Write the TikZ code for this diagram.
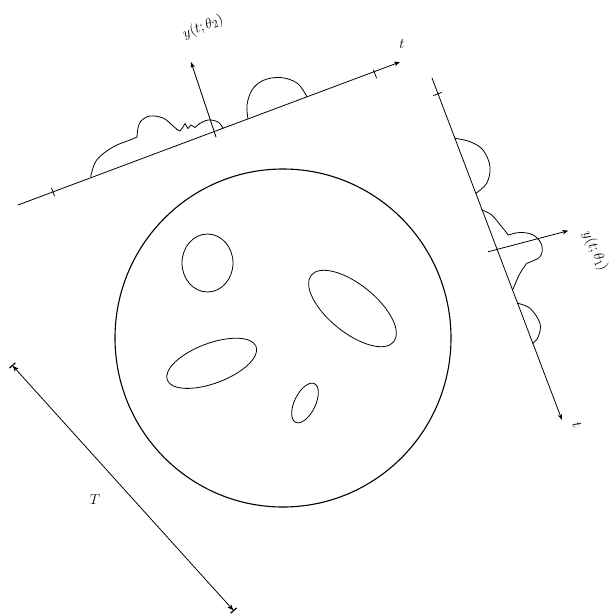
\documentclass[tikz,border=0pt]{standalone}
\usetikzlibrary{arrows.meta}
\begin{document}
\begin{tikzpicture}[x=1pt,y=-1pt,line cap=round,line join=round,
  ln/.style={line width=0.8pt},
  ax/.style={line width=0.8pt,-{Stealth[length=6pt,width=4.5pt]}},
  bump/.style={line width=0.8pt},
  hole/.style={line width=0.8pt},
  lbl/.style={font=\fontsize{15}{17}\selectfont, inner sep=0pt}]
\useasboundingbox (0,0) rectangle (611,614);
% big circle
\draw[line width=1.1pt] (283,338) ellipse [x radius=168, y radius=169];
% holes
\draw[hole] (207.5,263) ellipse [x radius=25.5, y radius=29];
\draw[hole, rotate around={-39:(352.5,308.5)}] (352.5,308.5) ellipse [x radius=53, y radius=24];
\draw[hole, rotate around={20.6:(211.7,363.3)}] (211.7,363.3) ellipse [x radius=47.5, y radius=20];
\draw[hole, rotate around={64:(305,403)}] (305,403) ellipse [x radius=21.5, y radius=10.5];
% top axis
\coordinate (a1) at (18,205);
\coordinate (a2) at (400,62);
\draw[ax] (a1) -- (a2);
\node[lbl] (t1) at (402,44) {$t$};
\draw[ln] (51.5,188) -- (54.5,196);
\draw[ln] (373.5,70) -- (376.5,78);
\coordinate (y2a) at (216,137);
\coordinate (y2b) at (191,62);
\draw[ax] (y2a) -- (y2b);
\node[lbl, rotate=22] (ly2) at (203,27) {$y(t;\theta_2)$};
% top bumps
\draw[bump] plot[smooth, tension=0.6] coordinates {(90.7,176.7) (96.7,160) (113,147) (130,140) (137,137)};
\draw[bump] plot[smooth, tension=0.6] coordinates {(137,137) (138,128) (141,121) (150,116) (163,118) (172,125) (177,129.5)};
\draw[bump] (177,129.5) -- (180,131) -- (183,127) -- (185,123.5) -- (188,128.5) -- (191,125) -- (195,127.5) -- (199,124);
\draw[bump] plot[smooth, tension=0.6] coordinates {(199,124) (208,120) (218,122) (223,128.3)};
\draw[bump] plot[smooth, tension=0.6] coordinates {(248,118.9) (247,105) (252,90) (263,80.5) (280,77.5) (297,83) (307,96.8)};
% right axis
\coordinate (b1) at (432,78);
\coordinate (b2) at (562,420);
\draw[ax] (b1) -- (b2);
\node[lbl, rotate=-65] (t2) at (577,425) {$t$};
\draw[ln] (433.5,95.5) -- (441.5,92.5);
\coordinate (y1a) at (488.3,251.7);
\coordinate (y1b) at (568.3,230.7);
\draw[ax] (y1a) -- (y1b);
\node[lbl, rotate=-65] (ly1) at (595,251) {$y(t;\theta_1)$};
% right bumps
\draw[bump] plot[smooth, tension=0.6] coordinates {(454.8,138.3) (470,141.7) (483,150) (490,166.7) (486.7,183.3) (475.8,193.3)};
\draw[bump] plot[smooth, tension=0.6] coordinates {(481.8,210) (491.7,215) (501.7,226.7) (508.3,235)};
\draw[bump] plot[smooth, tension=0.6] coordinates {(508.3,235) (520,232.5) (533.3,235) (541.7,245) (540,256.7) (526.7,263.3)};
\draw[bump] plot[smooth, tension=0.6] coordinates {(526.7,263.3) (520,273.3) (516,282) (512.6,290)};
\draw[bump] plot[smooth, tension=0.6] coordinates {(517.6,303.3) (530,308.3) (540,323.3) (538.3,336.7) (532.9,343.3)};
% T dimension
\coordinate (c1) at (12,365);
\coordinate (c2) at (234,611);
\draw[line width=0.8pt, {Bar[width=8pt,line width=1.2pt] Stealth[length=6pt,width=5pt]}-{Stealth[length=6pt,width=5pt] Bar[width=8pt,line width=1.2pt]}] (c1) -- (c2);
\node[lbl] (T) at (95,500) {$T$};
\end{tikzpicture}
\end{document}
